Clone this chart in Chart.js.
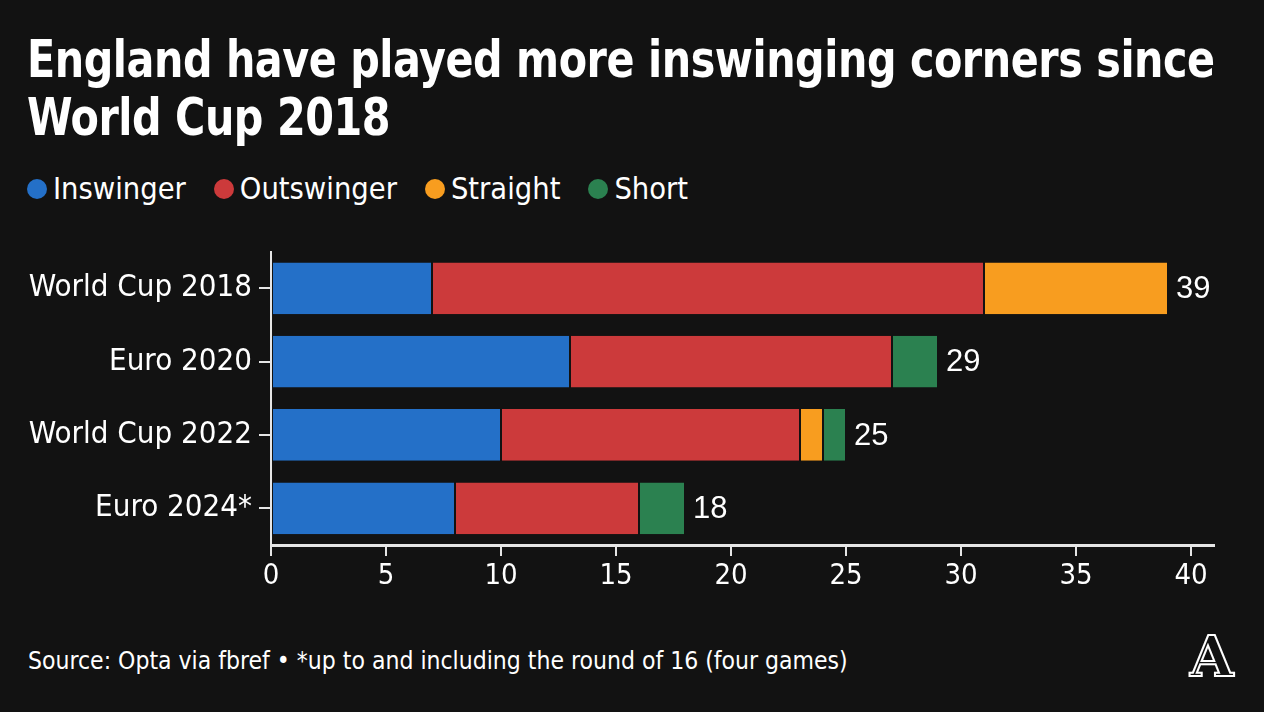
<!DOCTYPE html>
<html>
<head>
<meta charset="utf-8">
<script src="https://cdn.jsdelivr.net/npm/chart.js@4.4.1/dist/chart.umd.min.js"></script>
<style>
  html, body { margin: 0; padding: 0; background: #121212; }
  body { width: 1264px; height: 712px; position: relative; overflow: hidden; color: #fff; }
  #title {
    position: absolute; left: 27px; top: 31px; white-space: nowrap;
    font-family: "Liberation Sans Narrow", "DejaVu Sans Condensed", Roboto, sans-serif;
    font-weight: bold; font-size: 51px; line-height: 58px; letter-spacing: -0.5px;
    transform: scaleX(0.9); transform-origin: left top;
  }
  #legend {
    position: absolute; left: 27px; top: 169px; display: flex; gap: 28px;
    font-family: "Liberation Sans Narrow", "DejaVu Sans Condensed", Roboto, sans-serif;
    font-size: 30.5px; line-height: 40px;
  }
  #legend span { display: flex; align-items: center; }
  #legend i { display: inline-block; width: 20px; height: 20px; border-radius: 50%; margin-right: 6px; }
  #wrap { position: absolute; left: 0; top: 226px; width: 1264px; height: 384px; }
  #source {
    position: absolute; left: 28px; top: 646px;
    font-family: "Liberation Sans Narrow", "DejaVu Sans Condensed", Roboto, sans-serif;
    font-size: 24.5px;
  }
  #logo {
    position: absolute; left: 1190px; top: 628px;
    font-family: "DejaVu Serif", serif; font-weight: bold; font-size: 56px; line-height: 56px;
    color: #121212; -webkit-text-stroke: 2px #fff;
  }
</style>
</head>
<body>
<div id="title">England have played more inswinging corners since<br>World Cup 2018</div>
<div id="legend"></div>
<div id="wrap"><canvas id="chart"></canvas></div>
<div id="source">Source: Opta via fbref • *up to and including the round of 16 (four games)</div>
<div id="logo">A</div>
<script>
// ─── Data ──────────────────────────────────────────────────────────────────────
const tournaments = ["World Cup 2018", "Euro 2020", "World Cup 2022", "Euro 2024*"];
const inswinger   = [7, 13, 10, 8];
const outswinger  = [24, 14, 13, 8];
const straight    = [8, 0, 1, 0];
const short       = [0, 2, 1, 2];
const xTicks      = [0, 5, 10, 15, 20, 25, 30, 35, 40];

const series = [
  { label: "Inswinger",  data: inswinger,  color: "#2470c8" },
  { label: "Outswinger", data: outswinger, color: "#cc3a3b" },
  { label: "Straight",   data: straight,   color: "#f89d1f" },
  { label: "Short",      data: short,      color: "#2b8150" }
];

// legend as html
document.getElementById("legend").innerHTML = series.map(s =>
  `<span><i style="background:${s.color}"></i>${s.label}</span>`).join("");

const fontFam = '"Liberation Sans Narrow", "DejaVu Sans Condensed", Roboto, sans-serif';
const axisColor = "#e6e6e6";

// ─── Totals after each bar ─────────────────────────────────────────────────────
const totalsPlugin = {
  id: "totals",
  afterDatasetsDraw(chart) {
    const { ctx, scales: { x, y } } = chart;
    ctx.save();
    ctx.font = '31px "Liberation Sans", Arial, sans-serif';
    ctx.fillStyle = "#fff";
    ctx.textBaseline = "middle";
    tournaments.forEach((t, i) => {
      const total = series.reduce((sum, s) => sum + s.data[i], 0);
      ctx.fillText(total, x.getPixelForValue(total) + 8, y.getPixelForValue(i) + 1);
    });
    ctx.restore();
  }
};

new Chart(document.getElementById("chart"), {
  type: "bar",
  data: {
    labels: tournaments,
    datasets: series.map(s => ({
      label: s.label,
      data: s.data,
      backgroundColor: s.color,
      borderColor: "#121212",
      borderWidth: { left: 1, right: 1, top: 0, bottom: 0 },
      borderSkipped: false,
      barPercentage: 0.705,
      categoryPercentage: 1
    }))
  },
  options: {
    indexAxis: "y",
    responsive: true,
    maintainAspectRatio: false,
    animation: false,
    layout: { padding: { top: 11, right: 50, left: 0, bottom: 0 } },
    plugins: { legend: { display: false }, tooltip: { enabled: false } },
    scales: {
      x: {
        stacked: true,
        min: 0,
        max: 41,
        afterBuildTicks: axis => { axis.ticks = xTicks.map(v => ({ value: v })); },
        afterFit: axis => { axis.height = 65; },
        border: { display: true, color: axisColor, width: 3 },
        grid: { drawOnChartArea: false, drawTicks: true, tickLength: 11, color: axisColor, lineWidth: 2 },
        ticks: { color: "#fff", font: { family: fontFam, size: 29 }, padding: 3, maxRotation: 0 }
      },
      y: {
        stacked: true,
        afterFit: axis => { axis.width = 271; },
        border: { display: true, color: axisColor, width: 2 },
        grid: { offset: false, drawOnChartArea: false, drawTicks: true, tickLength: 12, color: axisColor, lineWidth: 2 },
        ticks: { color: "#fff", font: { family: fontFam, size: 31 }, padding: 7 }
      }
    }
  },
  plugins: [totalsPlugin]
});
</script>
</body>
</html>
